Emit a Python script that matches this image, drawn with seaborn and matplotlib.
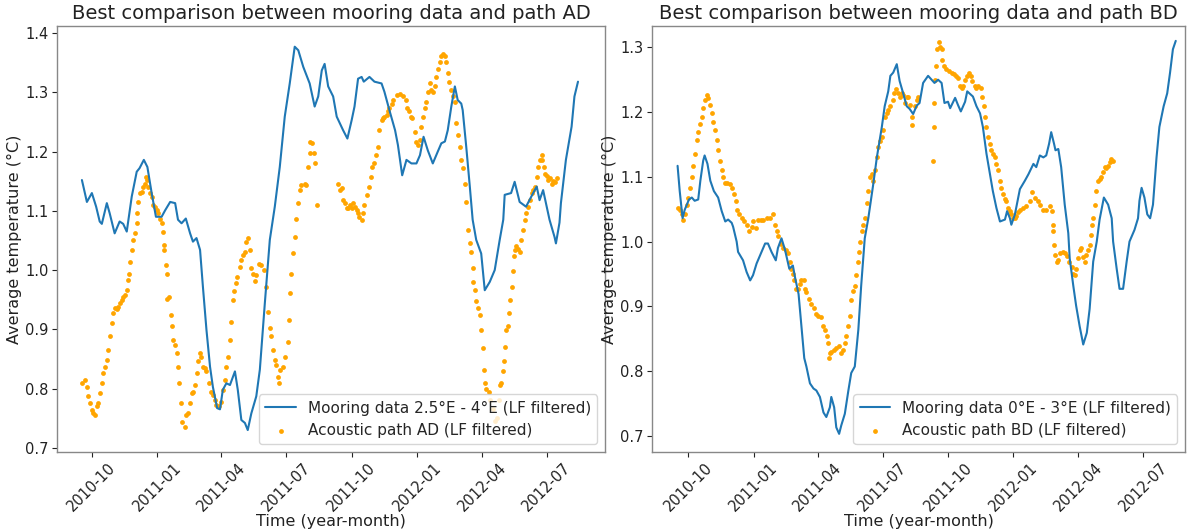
import matplotlib
matplotlib.use("Agg")
import matplotlib.pyplot as plt
import matplotlib.dates as mdates
import seaborn as sns
import pandas as pd
import numpy as np

BASE_DATE = "2010-10-01"  # day 0 of the day offsets below

# ---------------- Panel AD ----------------
ad_mooring_day = [-14, -7, 0, 6, 11, 14, 21, 25, 32, 39,
                  44, 49, 56, 63, 67, 73, 78, 84, 90, 98,
                  103, 110, 117, 121, 126, 132, 138, 142, 147, 152,
                  156, 161, 166, 170, 176, 180, 184, 189, 194, 201,
                  205, 210, 215, 219, 224, 231, 236, 243, 250, 257,
                  264, 271, 278, 285, 290, 297, 306, 313, 318, 323,
                  327, 332, 339, 344, 353, 359, 365, 369, 374, 379,
                  382, 390, 397, 407, 411, 418, 426, 430, 436, 442,
                  449, 456, 461, 466, 472, 479, 486, 491, 496, 500,
                  505, 510, 514, 519, 521, 526, 531, 535, 540, 547,
                  552, 559, 566, 573, 578, 580, 589, 594, 601, 610,
                  620, 625, 629, 634, 643, 650, 652, 657, 659, 666,
                  674, 678, 683]
ad_mooring_temp = [1.152, 1.115, 1.13, 1.107, 1.082, 1.078, 1.113, 1.096, 1.062, 1.082,
                   1.078, 1.065, 1.124, 1.166, 1.172, 1.186, 1.174, 1.13, 1.09, 1.09,
                   1.101, 1.115, 1.113, 1.085, 1.079, 1.087, 1.062, 1.048, 1.054, 1.034,
                   0.972, 0.899, 0.837, 0.803, 0.767, 0.765, 0.798, 0.809, 0.806, 0.829,
                   0.798, 0.747, 0.742, 0.73, 0.758, 0.787, 0.832, 0.944, 1.051, 1.107,
                   1.174, 1.259, 1.315, 1.377, 1.371, 1.343, 1.315, 1.276, 1.293, 1.337,
                   1.348, 1.31, 1.293, 1.259, 1.236, 1.222, 1.253, 1.276, 1.323, 1.326,
                   1.318, 1.326, 1.318, 1.315, 1.301, 1.27, 1.236, 1.211, 1.16, 1.186,
                   1.18, 1.18, 1.194, 1.225, 1.202, 1.18, 1.2, 1.214, 1.217, 1.236,
                   1.276, 1.31, 1.287, 1.281, 1.27, 1.208, 1.141, 1.085, 1.051, 1.028,
                   0.966, 0.98, 1.0, 1.051, 1.085, 1.127, 1.13, 1.149, 1.115, 1.107,
                   1.13, 1.141, 1.118, 1.135, 1.085, 1.056, 1.045, 1.08, 1.113, 1.186,
                   1.242, 1.293, 1.318]

ad_acoustic_day = [-14, -10, -7, -5, -3, 0, 2, 4, 7, 9,
                   11, 14, 16, 18, 21, 23, 25, 28, 30, 32,
                   35, 37, 39, 42, 44, 46, 49, 51, 52, 53,
                   56, 58, 60, 63, 64, 65, 67, 70, 72, 74,
                   76, 78, 79, 81, 84, 86, 88, 91, 93, 96,
                   98, 100, 101, 102, 104, 105, 106, 109, 111, 112,
                   114, 117, 119, 121, 123, 125, 127, 131, 132, 135,
                   138, 140, 142, 145, 147, 149, 152, 154, 156, 159,
                   161, 164, 168, 170, 173, 175, 179, 182, 184, 187,
                   189, 191, 194, 196, 198, 199, 202, 204, 208, 210,
                   212, 215, 217, 220, 222, 224, 227, 229, 231, 235,
                   238, 242, 245, 248, 250, 252, 255, 257, 259, 262,
                   263, 265, 269, 272, 276, 277, 279, 280, 283, 285,
                   287, 290, 292, 294, 299, 301, 304, 306, 307, 309,
                   312, 314, 316, 346, 348, 351, 353, 355, 358, 360,
                   362, 365, 367, 369, 372, 374, 376, 379, 381, 383,
                   386, 389, 392, 394, 396, 399, 402, 404, 407, 409,
                   411, 414, 416, 418, 421, 423, 428, 433, 437, 441,
                   443, 446, 448, 450, 454, 456, 458, 461, 463, 465,
                   468, 470, 472, 475, 477, 479, 482, 484, 486, 489,
                   491, 493, 496, 497, 500, 502, 504, 507, 510, 512,
                   514, 517, 519, 521, 524, 525, 528, 531, 533, 535,
                   536, 538, 540, 543, 545, 547, 549, 551, 552, 554,
                   558, 560, 563, 566, 569, 572, 573, 575, 577, 579,
                   580, 582, 585, 586, 588, 590, 592, 593, 594, 596,
                   599, 601, 603, 606, 608, 610, 613, 615, 618, 620,
                   622, 625, 627, 629, 632, 633, 635, 637, 639, 641,
                   643, 646, 648, 650, 653]
ad_acoustic_temp = [0.809, 0.815, 0.803, 0.787, 0.775, 0.764, 0.758, 0.756, 0.77, 0.775,
                    0.792, 0.809, 0.826, 0.837, 0.848, 0.865, 0.888, 0.91, 0.927, 0.936,
                    0.935, 0.938, 0.944, 0.95, 0.955, 0.958, 0.966, 0.983, 0.994, 1.014,
                    1.034, 1.051, 1.062, 1.079, 1.096, 1.115, 1.13, 1.132, 1.141, 1.146,
                    1.157, 1.152, 1.141, 1.13, 1.124, 1.11, 1.107, 1.101, 1.096, 1.087,
                    1.079, 1.065, 1.042, 1.034, 1.009, 0.994, 0.952, 0.955, 0.924, 0.905,
                    0.882, 0.874, 0.86, 0.837, 0.809, 0.775, 0.744, 0.736, 0.756, 0.758,
                    0.775, 0.792, 0.795, 0.806, 0.826, 0.846, 0.86, 0.854, 0.837, 0.834,
                    0.829, 0.809, 0.795, 0.79, 0.781, 0.772, 0.77, 0.778, 0.798, 0.815,
                    0.837, 0.854, 0.882, 0.913, 0.95, 0.964, 0.978, 0.989, 1.006, 1.017,
                    1.025, 1.031, 1.048, 1.054, 1.034, 1.003, 0.994, 0.981, 0.992, 1.011,
                    1.009, 1.0, 0.972, 0.93, 0.902, 0.888, 0.865, 0.848, 0.84, 0.82,
                    0.809, 0.832, 0.837, 0.854, 0.879, 0.916, 0.961, 0.994, 1.028, 1.056,
                    1.087, 1.113, 1.135, 1.144, 1.146, 1.144, 1.174, 1.197, 1.217, 1.214,
                    1.197, 1.18, 1.11, 1.146, 1.136, 1.138, 1.118, 1.113, 1.104, 1.104,
                    1.11, 1.104, 1.113, 1.107, 1.101, 1.096, 1.09, 1.085, 1.096, 1.11,
                    1.127, 1.141, 1.157, 1.174, 1.18, 1.194, 1.208, 1.236, 1.253, 1.256,
                    1.259, 1.262, 1.268, 1.273, 1.281, 1.287, 1.295, 1.298, 1.293, 1.287,
                    1.273, 1.268, 1.259, 1.256, 1.233, 1.217, 1.211, 1.22, 1.242, 1.259,
                    1.273, 1.284, 1.301, 1.315, 1.304, 1.301, 1.31, 1.326, 1.34, 1.351,
                    1.362, 1.365, 1.362, 1.351, 1.332, 1.318, 1.304, 1.293, 1.284, 1.248,
                    1.228, 1.208, 1.186, 1.172, 1.146, 1.115, 1.068, 1.045, 1.03, 1.003,
                    0.98, 0.966, 0.947, 0.936, 0.925, 0.899, 0.868, 0.832, 0.809, 0.80,
                    0.795, 0.78, 0.765, 0.745, 0.75, 0.78, 0.806, 0.81, 0.829, 0.846,
                    0.871, 0.899, 0.905, 0.927, 0.95, 0.972, 0.998, 1.023, 1.034, 1.04,
                    1.036, 1.031, 1.051, 1.068, 1.085, 1.096, 1.107, 1.118, 1.13, 1.135,
                    1.141, 1.157, 1.174, 1.186, 1.194, 1.186, 1.174, 1.163, 1.158, 1.152,
                    1.155, 1.146, 1.15, 1.149, 1.155]

# ---------------- Panel BD ----------------
bd_mooring_day = [-15, -12, -8, -5, 1, 5, 9, 14, 17, 21,
                  23, 27, 31, 36, 42, 47, 52, 56, 61, 63,
                  68, 70, 77, 82, 87, 91, 96, 101, 108, 112,
                  117, 123, 126, 131, 136, 142, 147, 150, 155, 159,
                  163, 166, 171, 176, 180, 185, 190, 194, 199, 201,
                  205, 208, 212, 215, 220, 225, 229, 234, 239, 243,
                  248, 253, 260, 265, 272, 276, 281, 284, 288, 293,
                  297, 302, 307, 311, 316, 321, 325, 330, 337, 342,
                  346, 351, 356, 360, 365, 368, 375, 379, 383, 389,
                  392, 396, 400, 405, 410, 414, 419, 424, 428, 433,
                  438, 445, 448, 452, 454, 459, 466, 473, 478, 485,
                  489, 494, 499, 503, 507, 510, 514, 516, 520, 524,
                  529, 534, 536, 541, 545, 550, 555, 560, 564, 569,
                  574, 578, 584, 590, 595, 597, 602, 606, 611, 616,
                  620, 627, 632, 634, 637, 641, 645, 649, 653, 658,
                  662, 668, 673, 677, 681, 685]
bd_mooring_temp = [1.117, 1.078, 1.036, 1.049, 1.065, 1.068, 1.063, 1.065, 1.094, 1.125,
                   1.133, 1.12, 1.094, 1.078, 1.068, 1.047, 1.031, 1.034, 1.029, 1.023,
                   1.0, 0.984, 0.971, 0.953, 0.94, 0.948, 0.966, 0.979, 0.997, 0.997,
                   0.984, 0.971, 0.99, 1.005, 0.987, 0.958, 0.963, 0.945, 0.919, 0.869,
                   0.82, 0.807, 0.781, 0.773, 0.77, 0.76, 0.736, 0.729, 0.744, 0.76,
                   0.744, 0.713, 0.703, 0.716, 0.734, 0.77, 0.797, 0.807, 0.864, 0.932,
                   1.005, 1.036, 1.089, 1.13, 1.177, 1.209, 1.232, 1.256, 1.261, 1.274,
                   1.248, 1.229, 1.209, 1.205, 1.197, 1.21, 1.214, 1.245, 1.256, 1.25,
                   1.245, 1.25, 1.245, 1.214, 1.216, 1.206, 1.222, 1.211, 1.201, 1.216,
                   1.232, 1.228, 1.224, 1.209, 1.198, 1.177, 1.136, 1.104, 1.078, 1.052,
                   1.031, 1.034, 1.047, 1.036, 1.026, 1.042, 1.081, 1.094, 1.104, 1.12,
                   1.115, 1.133, 1.13, 1.133, 1.151, 1.169, 1.151, 1.141, 1.143, 1.115,
                   1.057, 1.013, 0.974, 0.932, 0.901, 0.869, 0.841, 0.859, 0.896, 0.969,
                   1.0, 1.034, 1.068, 1.057, 1.036, 1.0, 0.958, 0.927, 0.927, 0.969,
                   1.0, 1.018, 1.036, 1.063, 1.083, 1.068, 1.042, 1.036, 1.057, 1.13,
                   1.177, 1.209, 1.229, 1.261, 1.297, 1.31]

bd_acoustic_day = [-15, -12, -9, -7, -5, -2, 0, 2, 5, 7,
                   9, 12, 14, 16, 19, 21, 23, 26, 28, 30,
                   33, 35, 37, 40, 42, 45, 47, 49, 52, 55,
                   59, 61, 64, 67, 69, 72, 75, 78, 82, 86,
                   89, 91, 95, 98, 102, 105, 110, 115, 119, 122,
                   124, 126, 130, 133, 137, 140, 143, 145, 147, 149,
                   151, 154, 157, 159, 162, 164, 166, 170, 173, 177,
                   179, 183, 186, 189, 192, 195, 197, 198, 199, 201,
                   205, 208, 212, 215, 218, 220, 222, 225, 227, 229,
                   232, 234, 236, 239, 240, 242, 244, 246, 248, 251,
                   253, 255, 258, 260, 262, 265, 267, 269, 272, 274,
                   276, 279, 281, 283, 287, 289, 292, 295, 297, 300,
                   302, 304, 307, 309, 311, 314, 315, 318, 321, 323,
                   344, 345, 346, 347, 348, 349, 352, 354, 356, 357,
                   359, 362, 366, 370, 373, 376, 379, 382, 384, 386,
                   389, 392, 395, 398, 399, 403, 405, 407, 411, 413,
                   415, 417, 419, 421, 424, 426, 428, 431, 433, 435,
                   438, 440, 442, 445, 447, 449, 452, 454, 456, 459,
                   461, 463, 466, 470, 475, 480, 483, 487, 491, 494,
                   499, 503, 508, 511, 512, 513, 514, 515, 518, 520,
                   523, 526, 530, 532, 535, 539, 541, 543, 545, 548,
                   550, 552, 555, 557, 559, 562, 564, 566, 568, 569,
                   571, 573, 576, 578, 580, 583, 585, 587, 590, 592,
                   594, 597]
bd_acoustic_temp = [1.052, 1.049, 1.042, 1.034, 1.042, 1.057, 1.068, 1.083, 1.099, 1.117,
                    1.136, 1.157, 1.17, 1.182, 1.193, 1.206, 1.219, 1.227, 1.222, 1.211,
                    1.198, 1.185, 1.172, 1.157, 1.141, 1.125, 1.11, 1.099, 1.091, 1.091,
                    1.089, 1.083, 1.073, 1.063, 1.049, 1.042, 1.036, 1.031, 1.026, 1.016,
                    1.023, 1.031, 1.021, 1.034, 1.034, 1.034, 1.036, 1.036, 1.042, 1.026,
                    1.016, 1.008, 0.997, 0.99, 0.987, 0.982, 0.969, 0.958, 0.95, 0.94,
                    0.927, 0.927, 0.935, 0.94, 0.94, 0.927, 0.922, 0.911, 0.903, 0.898,
                    0.888, 0.885, 0.883, 0.87, 0.864, 0.854, 0.844, 0.82, 0.828, 0.83,
                    0.833, 0.836, 0.838, 0.828, 0.833, 0.844, 0.854, 0.87, 0.885, 0.909,
                    0.924, 0.932, 0.948, 0.969, 0.984, 1.0, 1.016, 1.026, 1.036, 1.06,
                    1.078, 1.099, 1.104, 1.094, 1.11, 1.13, 1.146, 1.156, 1.162, 1.172,
                    1.193, 1.198, 1.203, 1.209, 1.219, 1.229, 1.236, 1.229, 1.224, 1.229,
                    1.227, 1.214, 1.224, 1.224, 1.211, 1.193, 1.18, 1.209, 1.219, 1.224,
                    1.125, 1.177, 1.214, 1.25, 1.271, 1.297, 1.309, 1.30, 1.297, 1.281,
                    1.271, 1.266, 1.263, 1.261, 1.259, 1.256, 1.253, 1.24, 1.237, 1.24,
                    1.25, 1.256, 1.261, 1.256, 1.248, 1.24, 1.237, 1.24, 1.237, 1.224,
                    1.209, 1.193, 1.177, 1.162, 1.151, 1.141, 1.136, 1.13, 1.12, 1.11,
                    1.094, 1.083, 1.073, 1.065, 1.063, 1.052, 1.047, 1.042, 1.036, 1.036,
                    1.039, 1.045, 1.049, 1.052, 1.055, 1.063, 1.076, 1.068, 1.063, 1.057,
                    1.049, 1.049, 1.055, 1.047, 1.026, 1.016, 0.995, 0.979, 0.969, 0.972,
                    0.982, 0.984, 0.982, 0.978, 0.969, 0.961, 0.95, 0.948, 0.958, 0.974,
                    0.987, 0.99, 0.976, 0.969, 0.979, 0.987, 0.995, 1.01, 1.026, 1.036,
                    1.057, 1.078, 1.094, 1.096, 1.10, 1.107, 1.115, 1.113, 1.117, 1.123,
                    1.128, 1.125]

titles = ["Best comparison between mooring data and path AD",
          "Best comparison between mooring data and path BD"]
mooring_labels = ["Mooring data 2.5°E - 4°E (LF filtered)",
                  "Mooring data 0°E - 3°E (LF filtered)"]
acoustic_labels = ["Acoustic path AD (LF filtered)",
                   "Acoustic path BD (LF filtered)"]
x_label = "Time (year-month)"
y_label = "Average temperature (°C)"


def to_dates(days):
    return pd.Timestamp(BASE_DATE) + pd.to_timedelta(np.asarray(days), unit="D")


sns.set_style("ticks")
plt.rcParams["font.family"] = ["DejaVu Sans"]

fig = plt.figure(figsize=(12, 5.29), dpi=100)
ax_left = fig.add_axes([0.0475, 0.1456, 0.4567, 0.8053])
ax_right = fig.add_axes([0.5433, 0.1456, 0.4442, 0.8053])

panels = [
    (ax_left, ad_mooring_day, ad_mooring_temp, ad_acoustic_day, ad_acoustic_temp,
     ("2010-08-13", "2012-09-21"), (0.693, 1.412)),
    (ax_right, bd_mooring_day, bd_mooring_temp, bd_acoustic_day, bd_acoustic_temp,
     ("2010-08-11", "2012-08-29"), (0.675, 1.333)),
]

for i, (ax, md, mt, ad, at, xl, yl) in enumerate(panels):
    assert len(md) == len(mt) and len(ad) == len(at)
    sns.lineplot(x=to_dates(md), y=mt, ax=ax, color="#1f77b4", linewidth=1.5,
                 label=mooring_labels[i], estimator=None)
    sns.scatterplot(x=to_dates(ad), y=at, ax=ax, color="orange", s=12,
                    linewidth=0, label=acoustic_labels[i])
    ax.set_xlim(pd.Timestamp(xl[0]), pd.Timestamp(xl[1]))
    ax.set_ylim(*yl)
    ax.xaxis.set_major_locator(mdates.MonthLocator(bymonth=[1, 4, 7, 10]))
    ax.xaxis.set_major_formatter(mdates.DateFormatter("%Y-%m"))
    ax.tick_params(axis="both", labelsize=10.5, colors="#222222", length=3.5, pad=2.5)
    ax.tick_params(axis="x", rotation=45)
    for s in ax.spines.values():
        s.set_color("#888888")
        s.set_linewidth(1.0)
    ax.set_title(titles[i], fontsize=14, color="#222222", pad=5)
    ax.set_xlabel(x_label, fontsize=11.5, color="#222222", labelpad=0)
    ax.set_ylabel(y_label, fontsize=11.5, color="#222222", labelpad=2)
    ax.legend(loc="lower right", fontsize=11, markerscale=1.0)

fig.savefig("out.png", dpi=100)
